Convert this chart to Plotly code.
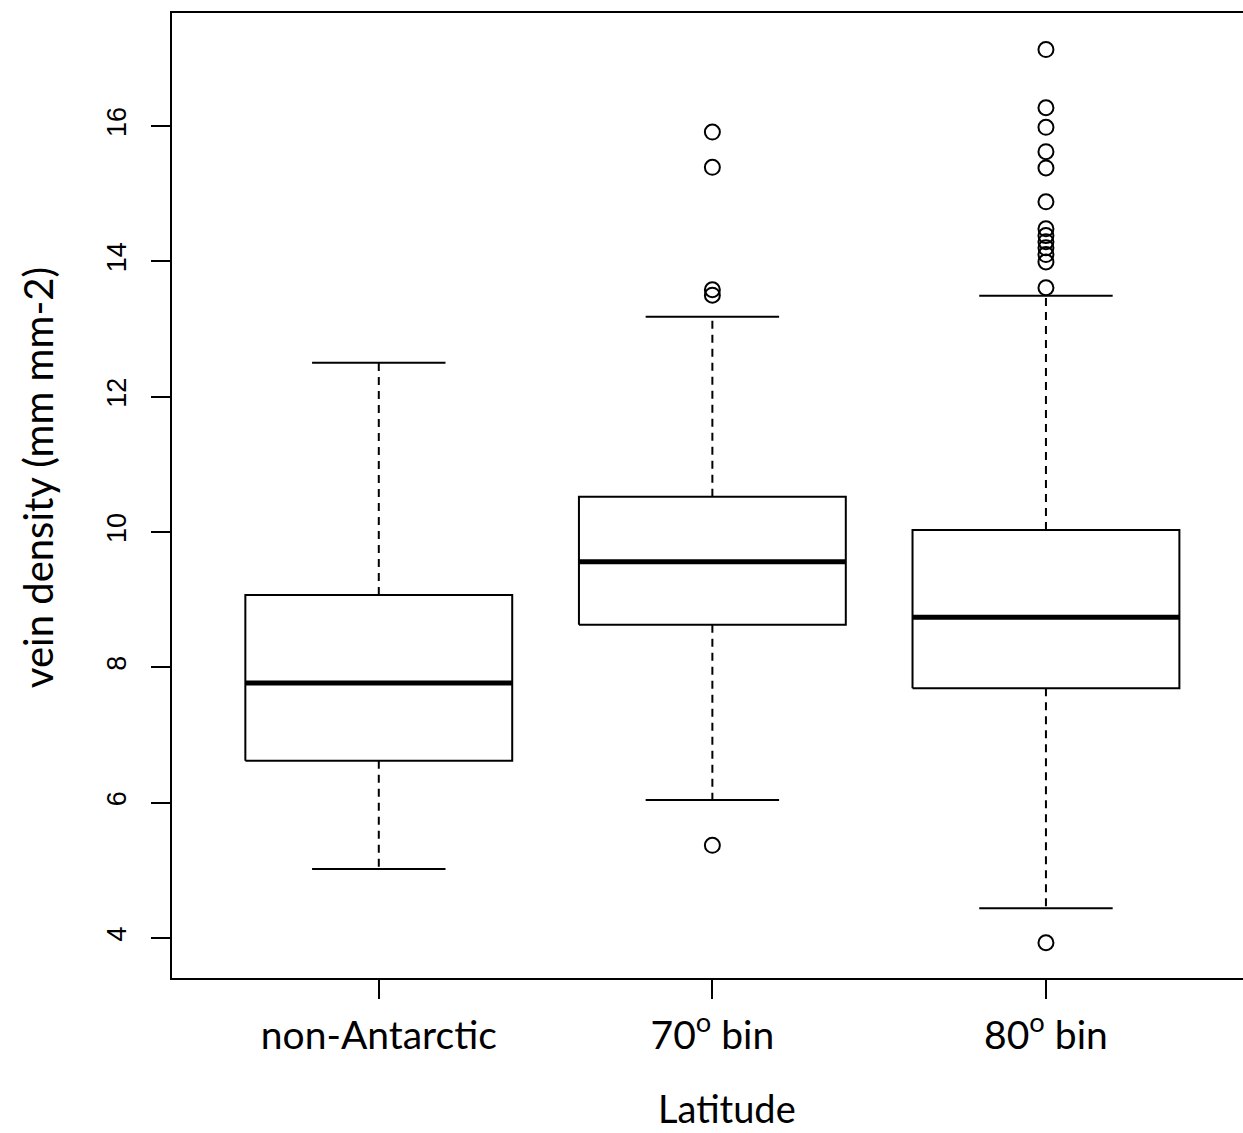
import plotly.graph_objects as go

# Summary statistics for leaf vein density by latitude group
categories = ["non-Antarctic", "70<sup>o</sup> bin", "80<sup>o</sup> bin"]
lower_whisker = [5.02, 6.04, 4.44]
q1 = [6.62, 8.63, 7.69]
median = [7.77, 9.56, 8.74]
q3 = [9.07, 10.52, 10.03]
upper_whisker = [12.50, 13.18, 13.49]

outliers_non_antarctic = []
outliers_70 = [15.91, 15.39, 13.58, 13.50, 5.37]
outliers_80 = [17.13, 16.27, 15.98, 15.62, 15.38, 14.88, 14.48, 14.38, 14.29,
               14.20, 14.10, 13.99, 13.61, 3.93]
outliers = [outliers_non_antarctic, outliers_70, outliers_80]

BOX_HALF = 0.4
CAP_HALF = 0.2
INK = "black"

fig = go.Figure()

for i, name in enumerate(categories):
    xc = i + 1
    # whiskers (dashed)
    fig.add_trace(go.Scatter(
        x=[xc, xc, None, xc, xc],
        y=[q3[i], upper_whisker[i], None, q1[i], lower_whisker[i]],
        mode="lines", line=dict(color=INK, width=2, dash="8px,6px"),
        hoverinfo="skip", showlegend=False))
    # whisker caps
    fig.add_trace(go.Scatter(
        x=[xc - CAP_HALF, xc + CAP_HALF, None, xc - CAP_HALF, xc + CAP_HALF],
        y=[upper_whisker[i], upper_whisker[i], None, lower_whisker[i], lower_whisker[i]],
        mode="lines", line=dict(color=INK, width=2),
        hoverinfo="skip", showlegend=False))
    # box
    fig.add_trace(go.Scatter(
        x=[xc - BOX_HALF, xc + BOX_HALF, xc + BOX_HALF, xc - BOX_HALF, xc - BOX_HALF],
        y=[q1[i], q1[i], q3[i], q3[i], q1[i]],
        mode="lines", line=dict(color=INK, width=2), fill="toself",
        fillcolor="white", hoverinfo="skip", showlegend=False))
    # median
    fig.add_trace(go.Scatter(
        x=[xc - BOX_HALF, xc + BOX_HALF],
        y=[median[i], median[i]],
        mode="lines", line=dict(color=INK, width=5),
        hoverinfo="skip", showlegend=False))
    # outliers
    if outliers[i]:
        fig.add_trace(go.Scatter(
            x=[xc] * len(outliers[i]), y=outliers[i], mode="markers",
            marker=dict(symbol="circle-open", size=15, color=INK,
                        line=dict(width=2, color=INK)),
            hoverinfo="skip", showlegend=False))

fig.update_layout(
    width=1243, height=1133,
    margin=dict(l=172, r=0, t=13, b=155),
    plot_bgcolor="white", paper_bgcolor="white",
    font=dict(family="Lato, 'Open Sans', sans-serif", color="black"),
    xaxis=dict(
        range=[0.3801, 3.5907], tickmode="array", tickvals=[1, 2, 3],
        ticktext=categories, showgrid=False, zeroline=False,
        showline=True, linecolor=INK, linewidth=2, mirror=True,
        ticks="outside", ticklen=19, tickwidth=2, tickcolor=INK,
        tickfont=dict(size=39, family="Lato, sans-serif"),
        ticklabelstandoff=3),
    yaxis=dict(
        range=[3.409, 17.67], tickmode="array",
        tickvals=[4, 6, 8, 10, 12, 14, 16], showgrid=False, zeroline=False,
        showline=True, linecolor=INK, linewidth=2,
        ticks="outside", ticklen=19, tickwidth=2, tickcolor=INK,
        tickangle=-90, tickfont=dict(size=27, family="Liberation Sans, Arial, sans-serif"),
        ticklabelstandoff=14),
    annotations=[
        dict(text="vein density (mm mm-2)", xref="paper", yref="paper",
             x=0, y=0.518, xshift=-134, xanchor="center", yanchor="middle",
             textangle=-90, showarrow=False, font=dict(size=40, family="Lato, sans-serif")),
        dict(text="Latitude", xref="paper", yref="paper",
             x=0.518, y=0, yshift=-130, xanchor="center", yanchor="middle",
             showarrow=False, font=dict(size=38, family="Lato, sans-serif")),
    ],
)

fig.write_html("out.html")
